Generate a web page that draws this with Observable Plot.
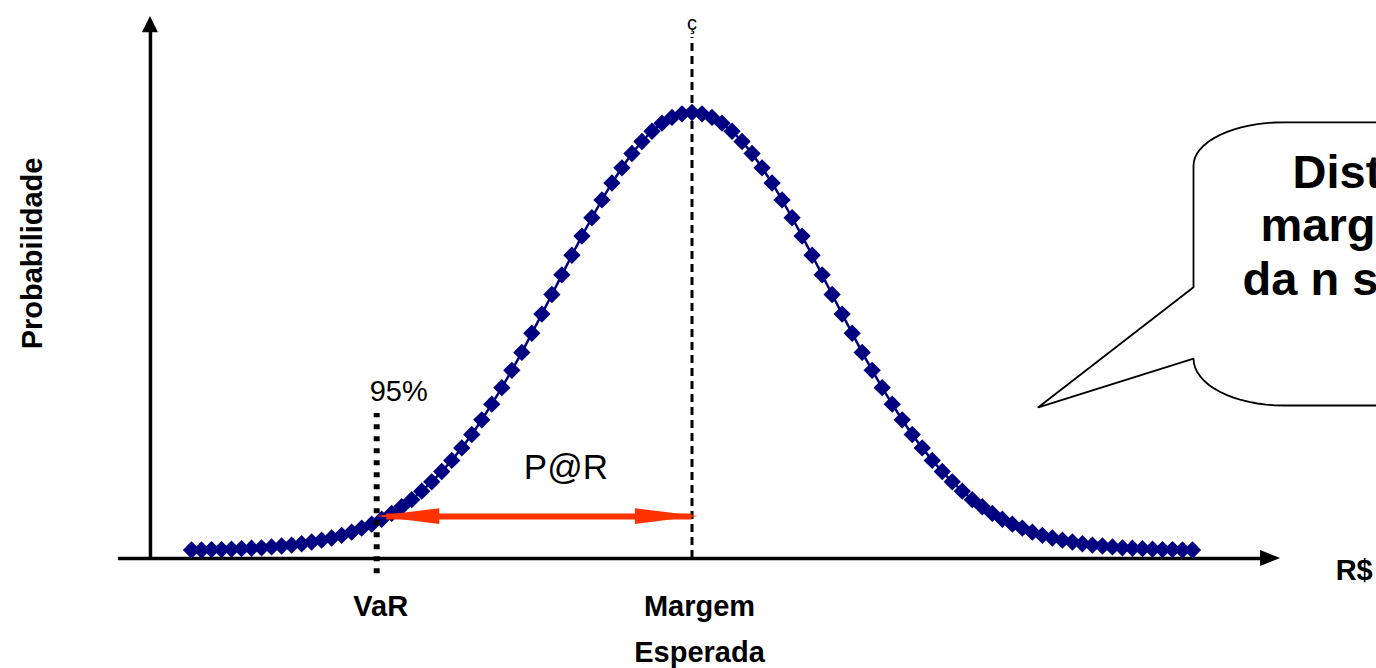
<!DOCTYPE html>
<html>
<head>
<meta charset="utf-8">
<script src="https://cdn.jsdelivr.net/npm/d3@7"></script>
<script src="https://cdn.jsdelivr.net/npm/@observablehq/plot@0.6"></script>
<style>
  html, body { margin: 0; padding: 0; background: #fff; overflow: hidden; }
  svg { display: block; }
</style>
</head>
<body>
<div id="chart"></div>
<script>
// Sampling grid (R$ offset from expected margin) and probability values
const xValues = d3.range(-50, 51);
const yValues = [
  1.9, 1.9, 2.0, 2.0, 2.1, 2.2, 2.3, 2.4, 2.6, 2.8,
  3.0, 3.3, 3.7, 4.1, 4.6, 5.2, 5.9, 6.8, 7.7, 8.8,
  10.1, 11.6, 13.2, 15.1, 17.2, 19.5, 22.0, 24.8, 27.8, 31.1,
  34.6, 38.3, 42.2, 46.2, 50.5, 54.8, 59.2, 63.6, 68.0, 72.3,
  76.4, 80.4, 84.2, 87.6, 90.8, 93.5, 95.8, 97.6, 98.9, 99.7,
  100.0,
  99.7, 98.9, 97.6, 95.8, 93.5, 90.8, 87.6, 84.2, 80.4, 76.4,
  72.3, 68.0, 63.6, 59.2, 54.8, 50.5, 46.2, 42.2, 38.3, 34.6,
  31.1, 27.8, 24.8, 22.0, 19.5, 17.2, 15.1, 13.2, 11.6, 10.1,
  8.8, 7.7, 6.8, 5.9, 5.2, 4.6, 4.1, 3.7, 3.3, 3.0,
  2.8, 2.6, 2.4, 2.3, 2.2, 2.1, 2.0, 2.0, 1.9, 1.9
];
const varX = -31.5;        // VaR position
const meanX = 0;           // expected margin
const arrowY = 9.4;        // level of the P@R arrow

const axisLabels = { x: "R$", y: "Probabilidade" };
const tickLabels = [
  { x: varX + 0.4, y: -12.8, text: "VaR" },
  { x: 0.75, y: -12.8, text: "Margem" },
  { x: 0.75, y: -23.3, text: "Esperada" }
];
const bubbleLines = [
  { x: 60.0, y: 83.0, text: "Distribuição da" },
  { x: 56.8, y: 71.3, text: "margem obtida" },
  { x: 55.0, y: 59.0, text: "da n simulações" }
];

const data = xValues.map((x, i) => ({ x, y: yValues[i] }));
const font = "Arial, 'Liberation Sans', Helvetica, sans-serif";
const navy = "#000080";
const red = "#ff3300";

// speech bubble outline (annotation geometry)
function arc(cx, cy, rx, ry, a0, a1, n = 16) {
  return d3.range(n + 1).map(k => {
    const a = a0 + (a1 - a0) * k / n;
    return { x: cx + rx * Math.cos(a), y: cy + ry * Math.sin(a) };
  });
}
const bubble = [
  { x: 72, y: 97.8 },
  ...arc(59.1, 88.1, 9.0, 9.7, Math.PI / 2, Math.PI),
  { x: 50.1, y: 60.8 },
  { x: 34.6, y: 33.9 },
  { x: 50.1, y: 44.8 },
  ...arc(59.1, 44.8, 9.0, 10.5, Math.PI, 1.5 * Math.PI),
  { x: 72, y: 34.3 }
];

const headLen = 6.3, headHalf = 1.75;
const chart = Plot.plot({
  width: 1376,
  height: 668,
  marginLeft: 191,
  marginRight: 184,
  marginTop: 112,
  marginBottom: 110,
  x: { domain: [-50, 50], axis: null },
  y: { domain: [0, 100], axis: null },
  style: { fontFamily: font, background: "white", overflow: "visible" },
  marks: [
    // axes with arrowheads
    Plot.ruleY([0], { x1: -57.3, x2: 57.5, stroke: "black", strokeWidth: 3.5 }),
    Plot.areaY([{ x: 58.8, y1: 0, y2: 0 }, { x: 56.8, y1: -1.8, y2: 1.8 }], { x: "x", y1: "y1", y2: "y2", fill: "black" }),
    Plot.ruleX([-54.1], { y1: 0, y2: 118.5, stroke: "black", strokeWidth: 3.5 }),
    Plot.areaX([{ y: 121.5, x1: -54.1, x2: -54.1 }, { y: 117.9, x1: -54.9, x2: -53.3 }], { y: "y", x1: "x1", x2: "x2", fill: "black" }),
    // expected margin dashed line
    Plot.ruleX([meanX], { y1: 0, y2: 116.8, stroke: "black", strokeWidth: 3, strokeDasharray: "8,5" }),
    Plot.text(["ç"], { x: meanX, y: 118.6, fontSize: 20, lineAnchor: "bottom", fill: "black" }),
    // distribution
    Plot.line(data, { x: "x", y: "y", stroke: navy, strokeWidth: 2.5 }),
    Plot.dot(data, { x: "x", y: "y", symbol: "diamond2", r: 7.8, fill: navy, stroke: "none" }),
    // VaR dotted line
    Plot.ruleX([varX], { y1: -3.4, y2: 32.5, stroke: "black", strokeWidth: 6, strokeDasharray: "5,7" }),
    Plot.text(["95%"], { x: varX + 2.2, y: 35.4, fontSize: 29, lineAnchor: "bottom", fill: "black" }),
    // P@R arrow
    Plot.ruleY([arrowY], { x1: varX + 1, x2: 0.0, stroke: red, strokeWidth: 6 }),
    Plot.areaY([{ x: varX, y1: arrowY, y2: arrowY }, { x: varX + headLen, y1: arrowY - headHalf, y2: arrowY + headHalf }], { x: "x", y1: "y1", y2: "y2", fill: red }),
    Plot.areaY([{ x: 0.65, y1: arrowY, y2: arrowY }, { x: 0.65 - headLen, y1: arrowY - headHalf, y2: arrowY + headHalf }], { x: "x", y1: "y1", y2: "y2", fill: red }),
    Plot.text(["P@R"], { x: -12.6, y: 17.9, fontSize: 35, lineAnchor: "bottom", fill: "black", letterSpacing: "2px" }),
    // labels
    Plot.text(tickLabels, { x: "x", y: "y", text: "text", fontSize: 29, fontWeight: "bold", lineAnchor: "bottom", fill: "black" }),
    Plot.text([axisLabels.x], { x: 64.3, y: -4.9, fontSize: 29, fontWeight: "bold", textAnchor: "start", lineAnchor: "bottom", fill: "black" }),
    Plot.text([axisLabels.y], { x: -65.9, y: 68.4, fontSize: 29, fontWeight: "bold", rotate: -90, fill: "black" }),
    // speech bubble
    Plot.line(bubble, { x: "x", y: "y", stroke: "black", strokeWidth: 1.8, fill: "white" }),
    Plot.text(bubbleLines, { x: "x", y: "y", text: "text", fontSize: 47, fontWeight: "bold", textAnchor: "start", lineAnchor: "bottom", fill: "black" })
  ]
});
document.getElementById("chart").appendChild(chart);
</script>
</body>
</html>
